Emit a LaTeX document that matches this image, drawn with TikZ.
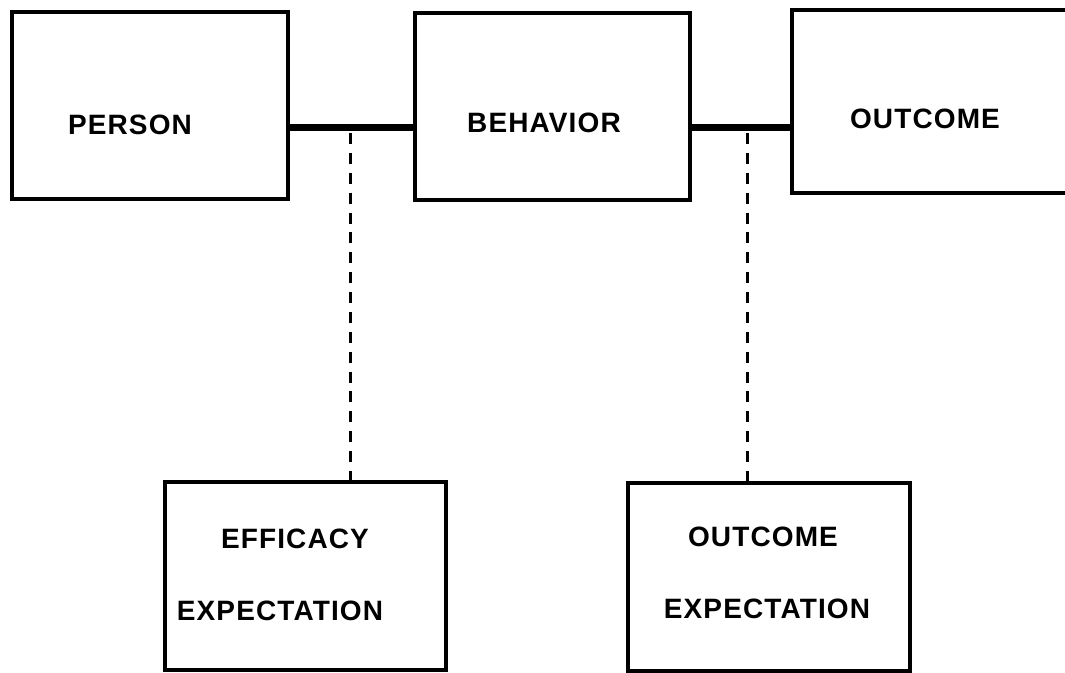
\documentclass[tikz,border=0pt]{standalone}
\usepackage{fontspec}
\setmainfont{Liberation Sans}
\begin{document}
\begin{tikzpicture}[x=1pt,y=-1pt,
  box/.style={draw=black,line width=3.5pt,rectangle,inner sep=0pt,fill=white},
  lbl/.style={font=\fontsize{28}{30}\selectfont\bfseries\addfontfeature{LetterSpace=4},inner sep=0pt,text height=20pt,text depth=0pt,anchor=center},
  link/.style={line width=7pt},
  dotlink/.style={line width=3pt,dash pattern=on 11pt off 8.88pt}]
\useasboundingbox (0,0) rectangle (1065,672);
\clip (0,0) rectangle (1065,672);
\fill[white] (0,0) rectangle (1065,672);
% boxes
\node[box,minimum width=276pt,minimum height=187pt] (person) at (150,105.5) {};
\node[box,minimum width=275pt,minimum height=187pt] (behavior) at (552.5,106.5) {};
\node[box,minimum width=320pt,minimum height=183pt] (outcome) at (952,101.5) {};
\node[box,minimum width=281pt,minimum height=188pt] (eff) at (305.5,576) {};
\node[box,minimum width=282pt,minimum height=188pt] (oexp) at (769,577) {};
% labels
\node[lbl] (tperson) at (130,124) {PERSON};
\node[lbl] (tbehavior) at (544,122) {BEHAVIOR};
\node[lbl] (toutcome) at (925,118) {OUTCOME};
\node[lbl] (teff1) at (295,538) {EFFICACY};
\node[lbl] (teff2) at (280,610) {EXPECTATION};
\node[lbl] (toe1) at (763,536) {OUTCOME};
\node[lbl] (toe2) at (767,608) {EXPECTATION};
% junctions
\coordinate (j1) at (350,127);
\coordinate (j2) at (747,127);
\draw[link] (person.east |- j1) -- (behavior.west |- j1);
\draw[link] (behavior.east |- j2) -- (outcome.west |- j2);
\draw[dotlink] ([yshift=-6pt]j1) -- (j1 |- eff.north);
\draw[dotlink] ([yshift=-6pt]j2) -- (j2 |- oexp.north);
\end{tikzpicture}
\end{document}
